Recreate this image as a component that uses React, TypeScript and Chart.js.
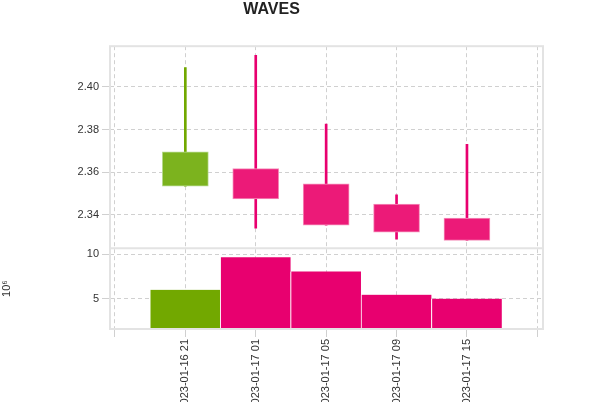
import React, { useEffect, useRef } from "react";
import { Chart, registerables } from "chart.js";
Chart.register(...registerables);

const labels = ["2023-01-16 21", "2023-01-17 01", "2023-01-17 05", "2023-01-17 09", "2023-01-17 15"];
const opens = [2.3535, 2.3617, 2.3546, 2.3451, 2.3385];
const closes = [2.3695, 2.3475, 2.3352, 2.3319, 2.3281];
const highs = [2.409, 2.4147, 2.3825, 2.3494, 2.373];
const lows = [2.3535, 2.3338, 2.3352, 2.3286, 2.3281];
const volumes = [6.0, 9.66, 8.07, 5.45, 5.0]; // x10^6

const UP = "#72a800", UPB = "#7cb31e", DN = "#e8006f", DNB = "#ec1a78";
const FONT = "Liberation Sans";

export default function App() {
  const ref = useRef<HTMLCanvasElement>(null);
  useEffect(() => {
    const up = opens.map((o, i) => closes[i] >= o);
    const frame = {
      id: "frame",
      afterDraw(c: any) {
        const { ctx, chartArea: a } = c;
        ctx.save();
        ctx.strokeStyle = "#e3e3e3";
        ctx.lineWidth = 2;
        ctx.strokeRect(a.left, a.top, a.right - a.left, a.bottom - a.top);
        const yv = c.scales.yv;
        ctx.beginPath();
        ctx.moveTo(a.left, yv.top);
        ctx.lineTo(a.right, yv.top);
        ctx.stroke();
        ctx.restore();
      },
    };
    const gridOpts = { color: "#d0d0d0", lineWidth: 1, offset: false };
    const chart = new Chart(ref.current!, {
      type: "bar",
      data: {
        datasets: [
          {
            data: labels.map((_, i) => ({ x: i, y: [lows[i], highs[i]] })) as any,
            backgroundColor: up.map((u) => (u ? UP : DN)),
            barThickness: 2,
            grouped: false,
            order: 2,
            yAxisID: "y",
          },
          {
            data: labels.map((_, i) => ({ x: i, y: [opens[i], closes[i]] })) as any,
            backgroundColor: up.map((u) => (u ? UPB : DNB)),
            borderColor: up.map((u) => (u ? "#b5d88a" : "#f590bb")),
            borderWidth: 1,
            borderSkipped: false,
            barThickness: 46,
            grouped: false,
            order: 1,
            yAxisID: "y",
          },
          {
            data: labels.map((_, i) => ({ x: i, y: volumes[i] })) as any,
            backgroundColor: up.map((u) => (u ? UP : DN)),
            borderColor: "#ffffff",
            borderWidth: { left: 1, right: 1, top: 0, bottom: 0 } as any,
            barThickness: 71,
            grouped: false,
            yAxisID: "yv",
          },
        ],
      },
      options: {
        animation: false,
        responsive: false,
        layout: { padding: { left: 0, right: 60, top: 0, bottom: 0 } },
        plugins: {
          legend: { display: false },
          tooltip: { enabled: false },
          title: {
            display: true,
            text: "WAVES",
            color: "#222",
            font: { family: FONT, size: 16, weight: "bold" },
            padding: { top: 0, bottom: 27 },
          },
        },
        scales: {
          x: {
            type: "linear",
            min: -1.07,
            max: 5.08,
            offset: false,
            grid: gridOpts,
            border: { display: false, dash: [4, 3] },
            afterFit: (s: any) => { s.height = 73; },
            afterBuildTicks: (s: any) => {
              s.ticks = [-1, 0, 1, 2, 3, 4, 5].map((v) => ({ value: v }));
            },
            ticks: {
              minRotation: 90,
              maxRotation: 90,
              autoSkip: false,
              padding: 2,
              color: "#333",
              font: { family: FONT, size: 11 },
              callback: (v: any) => labels[v] ?? "",
            },
          },
          yv: {
            type: "linear",
            stack: "s",
            stackWeight: 1,
            min: 1.59,
            max: 10.68,
            grid: gridOpts,
            border: { display: false, dash: [4, 3] },
            afterFit: (s: any) => { s.width = 110; },
            title: {
              display: true,
              text: "10⁶",
              color: "#333",
              font: { family: FONT, size: 11 },
              padding: { top: 0, bottom: 8 },
            },
            ticks: {
              stepSize: 5,
              includeBounds: false,
              color: "#333",
              font: { family: FONT, size: 11 },
            },
          },
          y: {
            type: "linear",
            stack: "s",
            stackWeight: 2.5,
            min: 2.3244,
            max: 2.419,
            grid: gridOpts,
            border: { display: false, dash: [4, 3] },
            afterFit: (s: any) => { s.width = 110; },
            ticks: {
              stepSize: 0.02,
              includeBounds: false,
              color: "#333",
              font: { family: FONT, size: 11 },
              callback: (v: any) => Number(v).toFixed(2),
            },
          },
        },
      } as any,
      plugins: [frame],
    });
    return () => chart.destroy();
  }, []);
  return (
    <div style={{ position: "absolute", left: 0, top: 0, width: 603, height: 402, background: "#fff" }}>
      <canvas ref={ref} width={603} height={402} />
    </div>
  );
}
